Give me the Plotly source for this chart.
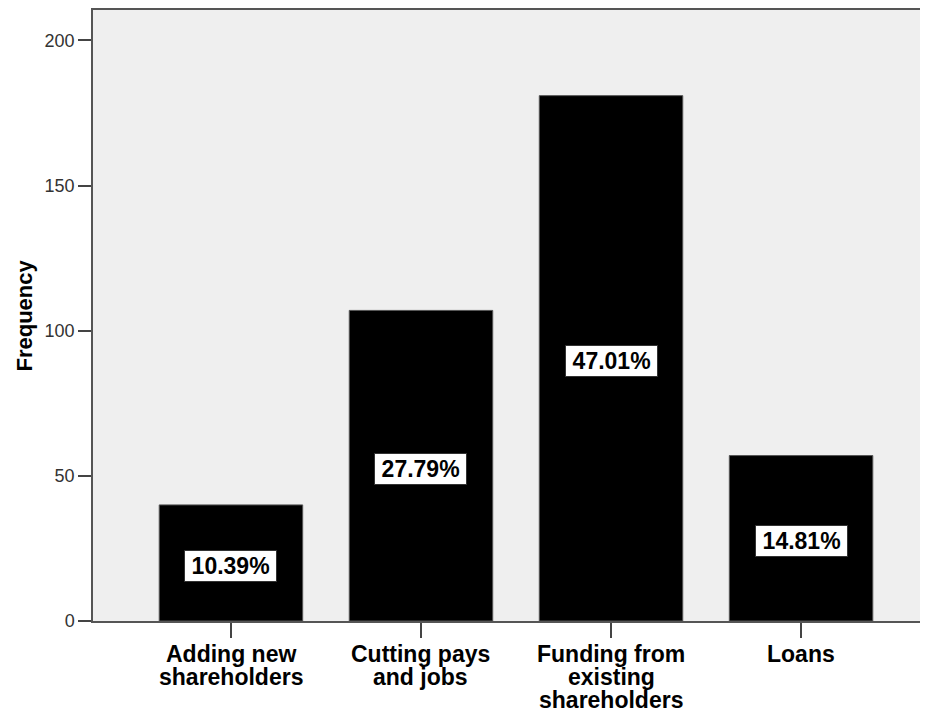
import plotly.graph_objects as go

categories = ["Adding new|shareholders", "Cutting pays|and jobs", "Funding from|existing|shareholders", "Loans"]
frequencies = [40, 107, 181, 57]
percent_labels = ["10.39%", "27.79%", "47.01%", "14.81%"]
y_ticks = [0, 50, 100, 150, 200]

xpos = list(range(len(categories)))
FONT = "Liberation Sans, Arial"

fig = go.Figure()
fig.add_trace(go.Bar(
    x=xpos, y=frequencies, width=0.755,
    marker=dict(color="black", line=dict(color="#555555", width=1)),
    hoverinfo="skip",
))

# percentage labels inside bars
for xi, v, lab in zip(xpos, frequencies, percent_labels):
    fig.add_annotation(
        x=xi, y=v / 2, text="<b>\u2009" + lab + "\u2009</b>", showarrow=False,
        yshift=-3,
        font=dict(family=FONT, size=23, color="black"),
        bgcolor="white", bordercolor="#333333", borderwidth=1, borderpad=2,
    )

# category labels with tight line spacing
for xi, cat in zip(xpos, categories):
    for k, line in enumerate(cat.split("|")):
        fig.add_annotation(
            x=xi, xref="x", y=0, yref="paper", yanchor="top",
            yshift=-19 - 23 * k, text="<b>" + line + "</b>", showarrow=False,
            font=dict(family=FONT, size=23, color="black"), borderpad=0,
        )

fig.add_annotation(
    x=0, xref="paper", y=0.5, yref="paper", xanchor="center", yanchor="middle",
    xshift=-69, textangle=-90, text="<b>Frequency</b>", showarrow=False,
    font=dict(family=FONT, size=22, color="black"),
)

fig.update_layout(
    width=920, height=706,
    margin=dict(l=85, r=0, t=2, b=93),
    paper_bgcolor="white",
    plot_bgcolor="#EFEFEF",
    showlegend=False,
    font=dict(family=FONT, color="black"),
)
fig.update_xaxes(
    range=[-0.726, 3.668],
    tickvals=xpos, ticktext=["" for _ in categories],
    ticks="outside", ticklen=15, tickcolor="#444444", tickwidth=1.5,
    showline=True, linecolor="#555555", linewidth=1.5, mirror=True,
    showgrid=False, zeroline=False,
)
fig.update_yaxes(
    range=[0, 210.5],
    tickvals=y_ticks,
    tickfont=dict(family=FONT, size=18, color="#333333"),
    ticks="outside", ticklen=13, tickcolor="#444444", tickwidth=1.5,
    showline=True, linecolor="#555555", linewidth=1.5,
    showgrid=False, zeroline=False,
)

fig.write_html("out.html")
